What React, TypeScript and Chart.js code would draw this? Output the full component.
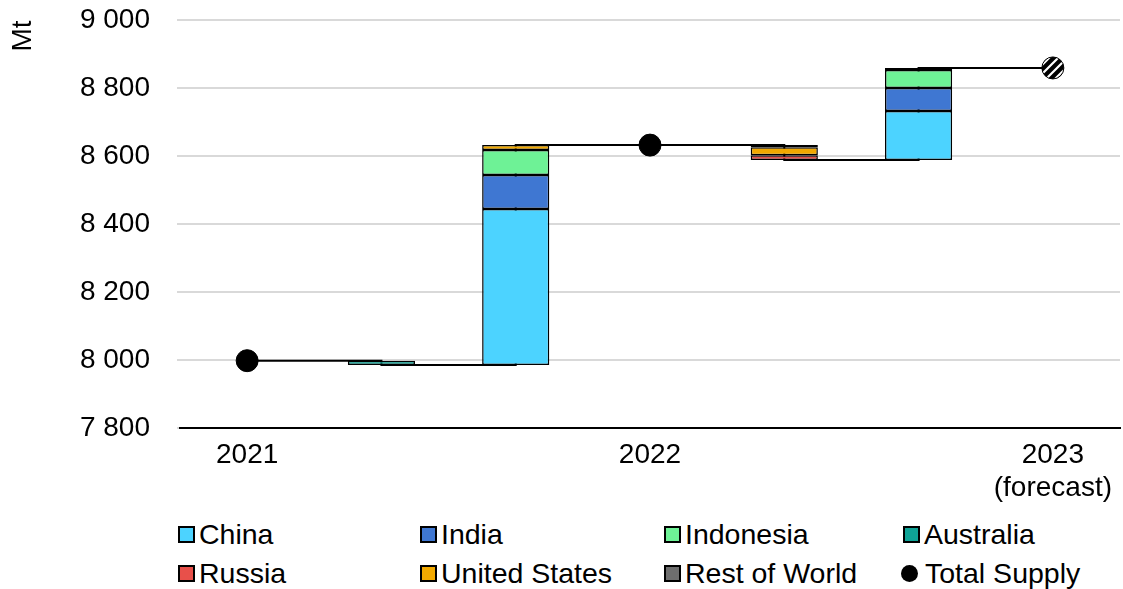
import React, { useEffect, useRef } from "react";
import { Chart, registerables } from "chart.js";
Chart.register(...registerables);

// ---- Data (Mt) ----
const slotLabels: (string | string[])[] = ["2021", "", "", "2022", "", "", ["2023", "(forecast)"]];
const totalSupply: (number | null)[] = [7998, null, null, 8632, null, null, 8859];
const china: (number | null)[] = [null, null, 459, null, null, 144, null];
const india: (number | null)[] = [null, null, 100, null, null, 68, null];
const indonesia: (number | null)[] = [null, null, 74, null, null, 53, null];
const australia: (number | null)[] = [null, -13, null, null, null, 6, null];
const russia: (number | null)[] = [null, null, null, null, -14, null, null];
const unitedStates: (number | null)[] = [null, null, 14, null, -24, null, null];
const restOfWorld: (number | null)[] = [null, null, null, null, -6, null, null];
const yMin = 7800;
const yMax = 9000;
const yStep = 200;

const series = [
  { label: "China", data: china, color: "#4CD3FF" },
  { label: "India", data: india, color: "#3F77D2" },
  { label: "Indonesia", data: indonesia, color: "#6EF296" },
  { label: "Australia", data: australia, color: "#0FA396" },
  { label: "Russia", data: russia, color: "#E8504A" },
  { label: "United States", data: unitedStates, color: "#F2A900" },
  { label: "Rest of World", data: restOfWorld, color: "#6E6E6E" },
];

const FONT = '"Liberation Sans", Arial, sans-serif';

function buildWaterfall() {
  const n = slotLabels.length;
  const ranges = series.map(() => new Array(n).fill(null) as ([number, number] | null)[]);
  const levelAfter: number[] = new Array(n).fill(0);
  let level = 0;
  for (let i = 0; i < n; i++) {
    const t = totalSupply[i];
    if (t != null) {
      level = t;
      levelAfter[i] = level;
      continue;
    }
    let neg = 0;
    let sum = 0;
    series.forEach((s) => {
      const d = s.data[i];
      if (d != null) {
        sum += d;
        if (d < 0) neg += d;
      }
    });
    let cur = level + neg;
    series.forEach((s, k) => {
      const d = s.data[i];
      if (d == null) return;
      const h = Math.abs(d);
      ranges[k][i] = [cur, cur + h];
      cur += h;
    });
    level += sum;
    levelAfter[i] = level;
  }
  return { ranges, levelAfter };
}

const mtPlugin = {
  id: "mtLabel",
  afterDraw(chart: any) {
    const ctx = chart.ctx;
    ctx.save();
    ctx.translate(23, 36);
    ctx.rotate(-Math.PI / 2);
    ctx.font = `28px ${FONT}`;
    ctx.fillStyle = "#000";
    ctx.textAlign = "center";
    ctx.textBaseline = "middle";
    ctx.fillText("Mt", 0, 0);
    ctx.restore();
  },
};

export default function App() {
  const canvasRef = useRef<HTMLCanvasElement | null>(null);

  useEffect(() => {
    const canvas = canvasRef.current;
    if (!canvas) return;
    const ctx = canvas.getContext("2d")!;

    const pc = document.createElement("canvas");
    pc.width = 9;
    pc.height = 9;
    const g = pc.getContext("2d")!;
    g.fillStyle = "#000";
    g.fillRect(0, 0, 9, 9);
    g.strokeStyle = "#fff";
    g.lineWidth = 2.2;
    g.beginPath();
    g.moveTo(0, 9);
    g.lineTo(9, 0);
    g.moveTo(-2, 2);
    g.lineTo(2, -2);
    g.moveTo(7, 11);
    g.lineTo(11, 7);
    g.stroke();
    const pattern = ctx.createPattern(pc, "repeat");

    const { ranges, levelAfter } = buildWaterfall();

    const barDatasets = series.map((s, k) => ({
      type: "bar" as const,
      label: s.label,
      data: ranges[k] as any,
      backgroundColor: s.color,
      borderColor: "#000",
      borderWidth: 1.5,
      borderSkipped: false,
      grouped: false,
      barPercentage: 0.5,
      categoryPercentage: 1,
      order: 2,
    }));

    const pointColors = totalSupply.map((_, i) => (i === totalSupply.length - 1 ? pattern : "#000"));

    const chart = new Chart(ctx, {
      type: "bar",
      data: {
        labels: slotLabels as any,
        datasets: [
          {
            type: "line" as const,
            label: "connector",
            data: levelAfter,
            borderColor: "#000",
            borderWidth: 2,
            stepped: "before",
            pointRadius: 0,
            fill: false,
            order: 10,
          } as any,
          ...barDatasets,
          {
            type: "line" as const,
            label: "Total Supply",
            data: totalSupply,
            showLine: false,
            pointRadius: 11,
            pointBackgroundColor: pointColors,
            pointBorderColor: "#000",
            pointBorderWidth: 1,
            order: 0,
          } as any,
        ],
      },
      options: {
        responsive: false,
        animation: false,
        layout: { autoPadding: false, padding: { top: 20, right: 3, left: 0, bottom: 0 } },
        plugins: {
          legend: { display: false },
          tooltip: { enabled: false },
        },
        scales: {
          x: {
            grid: { display: false, drawTicks: true, tickLength: 10 },
            border: { display: true, color: "#000", width: 2 },
            ticks: {
              autoSkip: false,
              maxRotation: 0,
              color: "#000",
              padding: 0,
              font: { family: FONT, size: 28, lineHeight: 1.2 },
            },
            afterFit: (s: any) => {
              s.height = 77;
              s.paddingLeft = 0;
              s.paddingRight = 0;
            },
          },
          y: {
            min: yMin,
            max: yMax,
            grid: { color: "#d9d9d9", lineWidth: 2, tickLength: 3 },
            border: { display: false },
            ticks: {
              stepSize: yStep,
              color: "#000",
              padding: 27,
              font: { family: FONT, size: 28 },
              callback: (v: any) => {
                const n = Number(v);
                return String(Math.round(n)).replace(/\B(?=(\d{3})+(?!\d))/g, " ");
              },
            },
            afterFit: (s: any) => {
              s.width = 180;
              s.paddingTop = 0;
              s.paddingBottom = 0;
            },
          },
        },
      },
      plugins: [mtPlugin],
    });

    return () => chart.destroy();
  }, []);

  const legendItems = [
    { label: "China", color: "#4CD3FF", left: 178, top: 517, kind: "box" },
    { label: "India", color: "#3F77D2", left: 420, top: 517, kind: "box" },
    { label: "Indonesia", color: "#6EF296", left: 664, top: 517, kind: "box" },
    { label: "Australia", color: "#0FA396", left: 903, top: 517, kind: "box" },
    { label: "Russia", color: "#E8504A", left: 178, top: 556, kind: "box" },
    { label: "United States", color: "#F2A900", left: 420, top: 556, kind: "box" },
    { label: "Rest of World", color: "#6E6E6E", left: 664, top: 556, kind: "box" },
    { label: "Total Supply", color: "#000", left: 901, top: 556, kind: "dot" },
  ];

  return (
    <div style={{ position: "absolute", left: 0, top: 0, width: 1123, height: 589, background: "#fff", fontFamily: FONT }}>
      <canvas ref={canvasRef} width={1123} height={505} style={{ display: "block", width: 1123, height: 505 }} />
      {legendItems.map((it) => (
        <div
          key={it.label}
          style={{
            position: "absolute",
            left: it.left,
            top: it.top,
            height: 34,
            display: "flex",
            alignItems: "center",
            fontSize: 28.5,
            lineHeight: "34px",
            color: "#000",
            whiteSpace: "nowrap",
          }}
        >
          {it.kind === "box" ? (
            <span
              style={{
                display: "inline-block",
                width: 13,
                height: 13,
                background: it.color,
                border: "2px solid #000",
                marginRight: 4,
              }}
            />
          ) : (
            <span
              style={{
                display: "inline-block",
                width: 17,
                height: 17,
                borderRadius: "50%",
                background: "#000",
                marginRight: 7,
              }}
            />
          )}
          <span>{it.label}</span>
        </div>
      ))}
    </div>
  );
}
